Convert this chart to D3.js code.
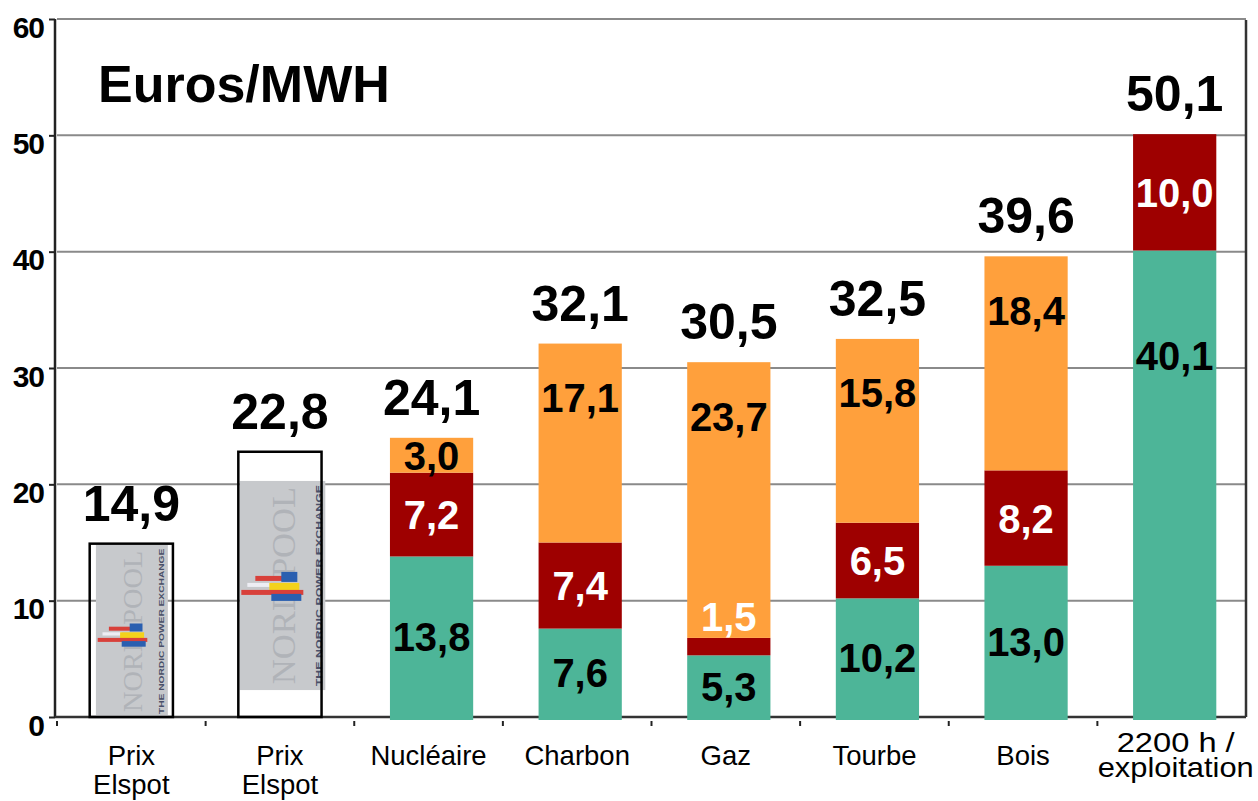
<!DOCTYPE html>
<html><head><meta charset="utf-8">
<script src="https://cdn.jsdelivr.net/npm/d3@7"></script>
<style>html,body{margin:0;padding:0;background:#fff;}svg{display:block;font-family:"Liberation Sans",Arial,sans-serif;}</style>
</head><body>
<svg id="c" width="1258" height="801"></svg>
<script>
// ---- data ----
const categories = [["Prix","Elspot"],["Prix","Elspot"],["Nucléaire"],["Charbon"],["Gaz"],["Tourbe"],["Bois"],["2200 h /","exploitation"]];
const totals = [14.9, 22.8, 24.1, 32.1, 30.5, 32.5, 39.6, 50.1];
const elspotValues = [14.9, 22.8, null, null, null, null, null, null];
const greenValues = [null, null, 13.8, 7.6, 5.3, 10.2, 13.0, 40.1];
const redValues = [null, null, 7.2, 7.4, 1.5, 6.5, 8.2, 10.0];
const orangeValues = [null, null, 3.0, 17.1, 23.7, 15.8, 18.4, null];
const yTicks = [0, 10, 20, 30, 40, 50, 60];
const title = "Euros/MWH";

const fmt = v => v.toFixed(1).replace(".", ",");
const svg = d3.select("#c");
const colors = {green:"#4db598", red:"#9e0000", orange:"#ffa03c"};
const left = 57, right = 1246;
const y = d3.scaleLinear().domain([0, 60]).range([717, 19]);
const x = d3.scaleBand().domain(d3.range(categories.length)).range([left, right]).paddingInner(0.44).paddingOuter(0.22);
const bw = x.bandwidth();
const shift = 3; // bars sit slightly right of band centre in the reference
const bx = i => x(i) + shift;

// gridlines
svg.append("g").selectAll("line").data(yTicks.filter(t => t > 0)).join("line")
  .attr("x1", left).attr("x2", right).attr("y1", d => y(d)).attr("y2", d => y(d))
  .attr("stroke", "#8a8a8a").attr("stroke-width", 2);

// y axis
const ya = svg.append("g").attr("transform", `translate(55,0)`)
  .call(d3.axisLeft(y).tickValues(yTicks).tickSize(6).tickFormat(d3.format("d")));
ya.select(".domain").attr("stroke", "#222").attr("stroke-width", 2.5).attr("d", `M0,${y(60)}V${y(0)}`);
ya.selectAll(".tick line").attr("stroke", "#222").attr("stroke-width", 2);
ya.selectAll(".tick text").attr("font-size", 30).attr("font-weight", "bold").attr("fill", "#000")
  .attr("font-family", "'Liberation Sans',Arial,sans-serif").attr("x", -11).attr("dy", "0.6em")
  .attr("letter-spacing", -1);

// frame right
svg.append("line").attr("x1", right).attr("x2", right).attr("y1", y(60)+1).attr("y2", y(0)).attr("stroke", "#333").attr("stroke-width", 2.5);

// stacked bars
const keys = ["green", "red", "orange"];
const rows = categories.map((c, i) => ({i, green: greenValues[i] || 0, red: redValues[i] || 0, orange: orangeValues[i] || 0}));
const stacked = d3.stack().keys(keys)(rows);

// bottom axis line (under the bars)
svg.append("line").attr("x1", 55).attr("x2", right).attr("y1", y(0)).attr("y2", y(0)).attr("stroke", "#333").attr("stroke-width", 2.5);

stacked.forEach(layer => {
  svg.append("g").selectAll("rect").data(layer.filter(d => d[1] - d[0] > 0)).join("rect")
    .attr("x", d => bx(d.data.i)).attr("width", bw)
    .attr("y", d => y(d[1])).attr("height", d => y(d[0]) - y(d[1]) + (d[0] === 0 ? 3 : 0))
    .attr("fill", colors[layer.key]);
});

// category ticks
const step = x.step();
svg.append("g").selectAll("line").data(d3.range(categories.length)).join("line")
  .attr("x1", d => x(d) - (step - bw) / 2).attr("x2", d => x(d) - (step - bw) / 2)
  .attr("y1", y(0) + 4).attr("y2", y(0) + 9).attr("stroke", "#222").attr("stroke-width", 2);

// Elspot outlined bars with logo picture
const defs = svg.append("defs");
elspotValues.forEach((v, i) => {
  if (v == null) return;
  const x0 = x(i), by = y(v), bh = y(0) - y(v);
  const g = svg.append("g");
  let gx, gw, gy, gh;
  if (i === 0) { gx = x0 + 6; gw = bw - 11; gy = by + 1; gh = bh; }
  else { gx = x0 + 1; gw = bw + 3; gy = y(20.3); gh = y(2.3) - y(20.3); }
  const cid = "clip" + i;
  defs.append("clipPath").attr("id", cid).append("rect").attr("x", gx).attr("y", gy).attr("width", gw).attr("height", gh);
  const pic = g.append("g").attr("clip-path", `url(#${cid})`);
  pic.append("rect").attr("x", gx).attr("y", gy).attr("width", gw).attr("height", gh).attr("fill", "#c7c9cc");
  const s = i === 0 ? 0.8 : 1.0;
  pic.append("text").attr("transform", `translate(${gx + gw * 0.64},${gy + gh - 6}) rotate(-90)`)
    .attr("font-family", "'Liberation Serif','DejaVu Serif',serif").attr("font-size", 34 * s)
    .attr("fill", "#b0b3b8").attr("textLength", gh - 12).attr("lengthAdjust", "spacingAndGlyphs").text("NORD POOL");
  pic.append("text").attr("transform", `translate(${gx + gw - 4},${gy + gh - 4}) rotate(-90)`)
    .attr("font-size", 9 * s).attr("font-weight", "bold").attr("fill", "#4a5068")
    .attr("textLength", gh - 8).attr("lengthAdjust", "spacingAndGlyphs").text("THE NORDIC POWER EXCHANGE");
  // flag logo
  const lx = gx + 2, ly = i === 0 ? y(7.9) : y(12.3);
  const stripes = [
    [14, 2, 36, 5, "#d8403a"], [40, -2, 16, 10, "#2a5fb0"],
    [6, 9, 24, 4, "#eeeef4"], [28, 9, 30, 8, "#f3d21c"],
    [0, 16, 62, 5, "#d8403a"], [30, 20, 30, 7, "#2a5fb0"]
  ];
  stripes.forEach(st => pic.append("rect").attr("x", lx + st[0] * s).attr("y", ly + st[1] * s)
    .attr("width", st[2] * s).attr("height", st[3] * s).attr("fill", st[4]));
  g.append("rect").attr("x", x0).attr("y", by).attr("width", bw).attr("height", bh)
    .attr("fill", "none").attr("stroke", "#000").attr("stroke-width", 2.5);
});

// segment labels
const bold = "'Liberation Sans',Arial,sans-serif";
stacked.forEach(layer => {
  layer.forEach(d => {
    const v = d[1] - d[0];
    if (!(v > 0)) return;
    const top = y(d[1]), bot = y(d[0]);
    const mid = (top + bot) / 2;
    let cy, fill;
    if (bot - top < 25) { cy = top - 21; fill = "#fff"; }
    else if (layer.key === "orange") { cy = Math.min(mid, top + 54); fill = "#000"; }
    else if (layer.key === "green") { cy = Math.min(mid, top + 105); fill = "#000"; }
    else { cy = mid; fill = "#fff"; }
    svg.append("text").attr("x", bx(d.data.i) + bw / 2).attr("y", cy + 14.5)
      .attr("text-anchor", "middle").attr("font-size", 40).attr("font-weight", "bold")
      .attr("font-family", bold).attr("fill", fill).text(fmt(v));
  });
});

// total labels
totals.forEach((t, i) => {
  const isEl = elspotValues[i] != null;
  const top = isEl ? y(elspotValues[i]) : y(stacked[2][i][1]);
  svg.append("text").attr("x", (isEl ? x(i) : bx(i)) + bw / 2).attr("y", top - 23)
    .attr("text-anchor", "middle").attr("font-size", 50).attr("font-weight", "bold")
    .attr("font-family", bold).attr("fill", "#000").text(fmt(t));
});

// category labels
categories.forEach((lines, i) => {
  const big = i === categories.length - 1;
  const fs = big ? 28 : 27.5;
  const lh = big ? 25 : 29;
  const base = big ? 752 : 765;
  const t = svg.append("text").attr("text-anchor", "middle").attr("font-size", fs).attr("fill", "#000")
    .attr("font-family", bold);
  lines.forEach((ln, k) => t.append("tspan").attr("x", x(i) + bw / 2 + (big ? 4 : 0)).attr("y", base + k * lh)
    .attr("textLength", big ? (k === 0 ? 118 : 156) : null).attr("lengthAdjust", "spacingAndGlyphs").text(ln));
});

// title
svg.append("text").attr("x", 98).attr("y", 102).attr("font-size", 52).attr("font-weight", "bold")
  .attr("font-family", bold).attr("fill", "#000").text(title);
</script>
</body></html>
